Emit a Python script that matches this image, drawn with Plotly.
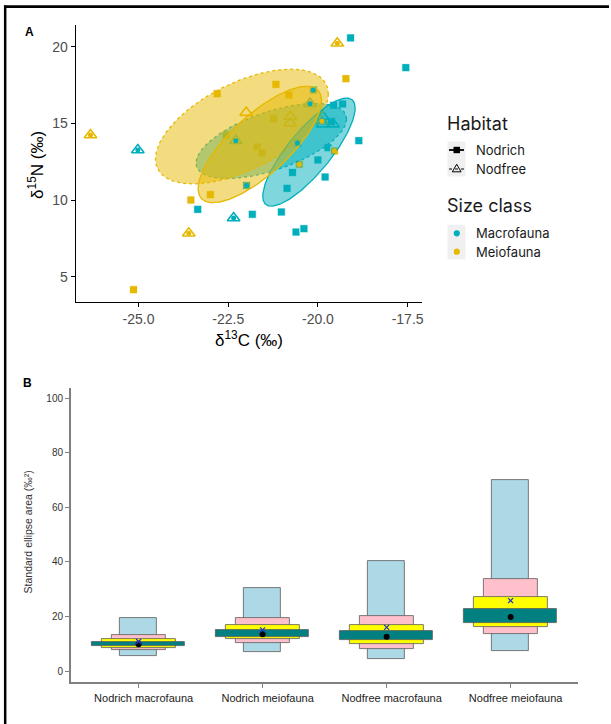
import numpy as np
import plotly.graph_objects as go

W, H = 611, 724
TEAL = "#00AFBB"
GOLD = "#E7B800"
SANS = "Liberation Sans, Arial, sans-serif"
LEG = "Inter, Noto Sans, sans-serif"

# ---------------- Panel A data ----------------
# Nodrich macrofauna (squares, teal)
nr_macro_x = [-19.09, -17.55, -19.56, -19.31, -18.86, -19.72, -20.00, -19.80, -20.71, -20.86,
              -21.02, -21.83, -23.35, -20.61, -20.39, -19.62, -20.13, -21.99, -20.57]
nr_macro_y = [20.57, 18.63, 16.17, 16.26, 13.87, 13.41, 12.61, 11.50, 11.80, 10.76,
              9.22, 9.07, 9.39, 7.91, 8.13, 15.10, 17.17, 10.95, 13.72]
nr_macro_dot = [0, 0, 0, 0, 0, 0, 0, 0, 0, 0, 0, 0, 0, 0, 0, 0, 1, 1, 1]
# Nodrich meiofauna (squares, gold)
nr_meio_x = [-25.14, -23.54, -23.00, -22.81, -22.56, -21.17, -20.81, -21.24, -21.69, -21.56,
             -19.22, -19.54, -20.52]
nr_meio_y = [4.15, 10.00, 10.35, 16.93, 14.24, 17.54, 16.85, 15.30, 13.46, 13.07,
             17.91, 13.20, 12.33]
nr_meio_dot = [0, 0, 0, 0, 0, 0, 0, 0, 0, 0, 0, 1, 1]
# Nodfree macrofauna (triangles, teal)
nf_macro_x = [-25.02, -22.35, -22.29, -20.22, -19.87, -19.87, -19.58]
nf_macro_y = [13.26, 8.83, 13.87, 16.28, 15.45, 14.95, 14.95]
nf_macro_dot = [1, 1, 1, 1, 0, 0, 0]
# Nodfree meiofauna (triangles, gold)
nf_meio_x = [-26.34, -23.60, -19.46, -22.00, -20.77, -20.77, -19.89]
nf_meio_y = [14.24, 7.83, 20.22, 15.70, 15.43, 15.00, 15.13]
nf_meio_dot = [1, 1, 1, 0, 0, 0, 1]

# Standard ellipses: centre and covariance (sxx, sxy, syy)
ell_names = ["Nodfree macrofauna", "Nodfree meiofauna", "Nodrich macrofauna", "Nodrich meiofauna"]
ell_cx = [-21.30, -22.12, -20.25, -21.62]
ell_cy = [13.85, 14.79, 13.12, 13.62]
ell_sxx = [4.40, 5.80, 1.66, 2.96]
ell_sxy = [3.00, 5.10, 3.70, 4.95]
ell_syy = [6.00, 14.00, 12.40, 14.40]
ell_color = [TEAL, GOLD, TEAL, GOLD]
ell_dash = ["dot", "dot", "solid", "solid"]

xticks_a = [-25.0, -22.5, -20.0, -17.5]
xticklabels_a = ["-25.0", "-22.5", "-20.0", "-17.5"]
yticks_a = [5, 10, 15, 20]

# ---------------- Panel B data ----------------
groups = ["Nodrich macrofauna", "Nodrich meiofauna", "Nodfree macrofauna", "Nodfree meiofauna"]
ci99_lo = [5.6, 7.1, 4.5, 7.4]
ci99_hi = [19.3, 30.4, 40.3, 70.0]
ci95_lo = [7.7, 10.3, 7.9, 13.4]
ci95_hi = [13.2, 19.4, 20.0, 33.6]
ci75_lo = [8.6, 11.7, 9.8, 16.0]
ci75_hi = [11.7, 16.7, 16.7, 27.0]
ci50_lo = [9.2, 12.6, 11.4, 17.7]
ci50_hi = [10.7, 14.9, 14.7, 22.8]
sea_mode = [9.8, 13.5, 12.6, 19.8]
sea_c = [10.8, 15.1, 16.0, 25.8]
yticks_b = [0, 20, 40, 60, 80, 100]


def px(x):
    return x / W


def py(y):
    return 1 - y / H


fig = go.Figure()

# --- points (drawn below ellipses)
def add_pts(xs, ys, color, symbol, size, lw, lc):
    fig.add_trace(go.Scatter(x=xs, y=ys, mode="markers", xaxis="x", yaxis="y",
                             marker=dict(symbol=symbol, size=size, color=color,
                                         line=dict(width=lw, color=lc)),
                             showlegend=False, hoverinfo="skip"))

add_pts(nr_macro_x, nr_macro_y, TEAL, "square", 8, 0.8, "white")
add_pts(nr_meio_x, nr_meio_y, GOLD, "square", 8, 0.8, "white")
add_pts(nf_macro_x, nf_macro_y, TEAL, "triangle-up-open", 11, 1.6, TEAL)
add_pts(nf_meio_x, nf_meio_y, GOLD, "triangle-up-open", 11, 1.6, GOLD)

# --- ellipses
t = np.linspace(0, 2 * np.pi, 241)
for i in range(4):
    cov = np.array([[ell_sxx[i], ell_sxy[i]], [ell_sxy[i], ell_syy[i]]])
    L = np.linalg.cholesky(cov)
    pts = L @ np.vstack([np.cos(t), np.sin(t)])
    ex = ell_cx[i] + pts[0]
    ey = ell_cy[i] + pts[1]
    c = ell_color[i]
    r, g, b = int(c[1:3], 16), int(c[3:5], 16), int(c[5:7], 16)
    fig.add_trace(go.Scatter(x=ex, y=ey, mode="lines", fill="toself",
                             fillcolor=f"rgba({r},{g},{b},0.5)",
                             line=dict(color=c, width=1.3, dash=ell_dash[i]),
                             xaxis="x", yaxis="y", showlegend=False, hoverinfo="skip",
                             name=ell_names[i]))

# --- small dots on top
def add_dots(xs, ys, flags, color):
    dx = [x for x, f in zip(xs, flags) if f]
    dy = [y for y, f in zip(ys, flags) if f]
    fig.add_trace(go.Scatter(x=dx, y=dy, mode="markers", xaxis="x", yaxis="y",
                             marker=dict(symbol="circle", size=5, color=color),
                             showlegend=False, hoverinfo="skip"))

add_dots(nr_macro_x, nr_macro_y, nr_macro_dot, TEAL)
add_dots(nr_meio_x, nr_meio_y, nr_meio_dot, GOLD)
add_dots(nf_macro_x, nf_macro_y, nf_macro_dot, TEAL)
add_dots(nf_meio_x, nf_meio_y, nf_meio_dot, GOLD)

# ---------------- Panel B ----------------
levels = [(ci99_lo, ci99_hi, "#ADD8E6", 0.30),
          (ci95_lo, ci95_hi, "#FFC0CB", 0.44),
          (ci75_lo, ci75_hi, "#FFFF00", 0.60),
          (ci50_lo, ci50_hi, "#008080", 0.75)]
for lo, hi, col, w in levels:
    fig.add_trace(go.Bar(x=groups, y=np.array(hi) - np.array(lo), base=lo, width=w,
                         marker=dict(color=col, line=dict(color="#5a5a5a", width=0.8)),
                         xaxis="x2", yaxis="y2", showlegend=False, hoverinfo="skip"))
fig.add_trace(go.Scatter(x=groups, y=sea_mode, mode="markers", xaxis="x2", yaxis="y2",
                         marker=dict(symbol="circle", size=6, color="black"),
                         showlegend=False, hoverinfo="skip"))
fig.add_trace(go.Scatter(x=groups, y=sea_c, mode="markers", xaxis="x2", yaxis="y2",
                         marker=dict(symbol="x-thin", size=5, color="#2233CC",
                                     line=dict(width=1.3, color="#2233CC")),
                         showlegend=False, hoverinfo="skip"))

# ---------------- layout ----------------
shapes = []
# frame
shapes.append(dict(type="line", xref="paper", yref="paper", x0=px(4), x1=px(611),
                   y0=py(6.7), y1=py(6.7), line=dict(color="black", width=2.7)))
shapes.append(dict(type="line", xref="paper", yref="paper", x0=px(5.2), x1=px(5.2),
                   y0=py(5.4), y1=py(724), line=dict(color="black", width=2.5)))
# legend key backgrounds
shapes.append(dict(type="rect", xref="paper", yref="paper", x0=px(449), x1=px(467),
                   y0=py(141.5), y1=py(176.5), fillcolor="#F0F0F0", line=dict(width=0)))
shapes.append(dict(type="rect", xref="paper", yref="paper", x0=px(449), x1=px(467),
                   y0=py(225), y1=py(259.5), fillcolor="#F0F0F0", line=dict(width=0)))
# Nodrich key
shapes.append(dict(type="line", xref="paper", yref="paper", x0=px(450.5), x1=px(465.5),
                   y0=py(150), y1=py(150), line=dict(color="black", width=1.8)))
shapes.append(dict(type="rect", xref="paper", yref="paper", x0=px(455), x1=px(461.5),
                   y0=py(146.8), y1=py(153.2), fillcolor="black", line=dict(width=0)))
# Nodfree key
shapes.append(dict(type="line", xref="paper", yref="paper", x0=px(450.5), x1=px(465.5),
                   y0=py(169), y1=py(169), line=dict(color="black", width=1.2, dash="dot")))
shapes.append(dict(type="path", xref="paper", yref="paper",
                   path=f"M {px(458.2)},{py(164.2)} L {px(462.6)},{py(171.8)} L {px(453.8)},{py(171.8)} Z",
                   fillcolor="rgba(0,0,0,0)", line=dict(color="black", width=1)))
# size class keys
for yy, col in [(233.3, TEAL), (251.7, GOLD)]:
    shapes.append(dict(type="circle", xref="paper", yref="paper", x0=px(455.2), x1=px(461.4),
                       y0=py(yy - 3.1), y1=py(yy + 3.1), fillcolor=col, line=dict(width=0)))

ann = []
def txt(text, x, y, size, font=SANS, color="black", xanchor="center", angle=0, bold=False):
    if bold:
        text = f"<b>{text}</b>"
    ann.append(dict(text=text, x=px(x), y=py(y), xref="paper", yref="paper",
                    xanchor=xanchor, yanchor="middle", showarrow=False, textangle=angle,
                    font=dict(family=font, size=size, color=color)))

txt("A", 29.3, 32, 12, bold=True, xanchor="center")
txt("B", 27.3, 383.3, 12, bold=True, xanchor="center")
txt("δ<sup>13</sup>C (‰)", 250, 338.5, 17)
txt("δ<sup>15</sup>N (‰)", 36, 165, 17, angle=-90)
txt("Standard ellipse area (‰²)", 28.5, 532, 10.5, color="#333333", angle=-90)
txt("Habitat", 446.5, 123, 18, font=LEG, color="#1a1a1a", xanchor="left")
txt("Nodrich", 475.5, 150, 13, font=LEG, color="#1a1a1a", xanchor="left")
txt("Nodfree", 475.5, 168.5, 13, font=LEG, color="#1a1a1a", xanchor="left")
txt("Size class", 446.5, 205, 18, font=LEG, color="#1a1a1a", xanchor="left")
txt("Macrofauna", 475.5, 233.3, 13, font=LEG, color="#1a1a1a", xanchor="left")
txt("Meiofauna", 475.5, 251.7, 13, font=LEG, color="#1a1a1a", xanchor="left")

fig.update_layout(
    width=W, height=H, autosize=False,
    margin=dict(l=0, r=0, t=0, b=0),
    paper_bgcolor="white", plot_bgcolor="rgba(0,0,0,0)",
    barmode="overlay", bargap=0,
    shapes=shapes, annotations=ann,
    xaxis=dict(domain=[px(76), px(423)], range=[-26.75, -17.11], anchor="y",
               tickvals=xticks_a, ticktext=xticklabels_a,
               showline=True, linecolor="black", linewidth=1.2, mirror=False,
               ticks="outside", ticklen=4, tickwidth=1.1, tickcolor="black",
               showgrid=False, zeroline=False,
               tickfont=dict(family=SANS, size=14, color="#4D4D4D")),
    yaxis=dict(domain=[py(302), py(25)], range=[3.35, 21.41], anchor="x",
               tickvals=yticks_a,
               showline=True, linecolor="black", linewidth=1.2,
               ticks="outside", ticklen=4, tickwidth=1.1, tickcolor="black",
               showgrid=False, zeroline=False,
               tickfont=dict(family=SANS, size=14, color="#4D4D4D")),
    xaxis2=dict(domain=[px(71), px(579.5)], type="category", range=[-0.547, 3.54],
                anchor="y2", categoryorder="array", categoryarray=groups,
                showline=True, linecolor="#808080", linewidth=1.5,
                ticks="outside", ticklen=5, tickwidth=1.1, tickcolor="#808080",
                ticklabelshift=5,
                showgrid=False, zeroline=False,
                tickfont=dict(family=SANS, size=11, color="#222222")),
    yaxis2=dict(domain=[py(681.7), py(388)], range=[-3.9, 103.7], anchor="x2",
                tickvals=yticks_b,
                showline=True, linecolor="#808080", linewidth=1.5,
                ticks="outside", ticklen=4, tickwidth=1.0, tickcolor="#808080",
                showgrid=False, zeroline=False,
                tickfont=dict(family=SANS, size=10, color="#333333")),
)

fig.write_html("out.html", config={"displayModeBar": False},
               post_script="document.body.style.margin='0';document.body.style.padding='0';")
